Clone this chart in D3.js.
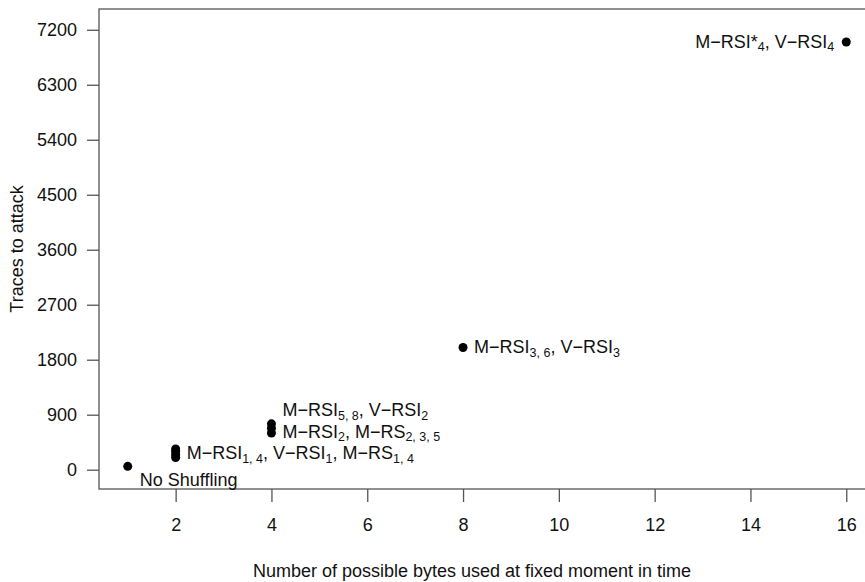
<!DOCTYPE html>
<html>
<head>
<meta charset="utf-8">
<script src="https://cdn.jsdelivr.net/npm/d3@7/dist/d3.min.js"></script>
<style>
  body { margin: 0; background: #fff; }
  svg text { font-family: "Liberation Sans", Arial, Helvetica, sans-serif; }
</style>
</head>
<body>
<svg id="chart" width="865" height="582"></svg>
<script>
// Shuffling variants: number of candidate bytes vs. traces needed for the attack
const possibleBytes   = [1, 2, 2, 2, 2, 4, 4, 4, 8, 16];
const tracesToAttack  = [55, 200, 250, 300, 340, 600, 680, 750, 2000, 7000];

const xTicks = [2, 4, 6, 8, 10, 12, 14, 16];
const yTicks = [0, 900, 1800, 2700, 3600, 4500, 5400, 6300, 7200];

// Point annotations: anchor (x, traces) and which side of the point the text sits
const labelX    = [1, 2, 4, 4, 8, 16];
const labelY    = [55, 270, 975, 625, 2000, 7000];
const labelSide = ["below", "right", "right", "right", "right", "left"];
const labelText = [
  [["No Shuffling"]],
  [["M\u2212RSI"], ["1, 4", "sub"], [", V\u2212RSI"], ["1", "sub"], [", M\u2212RS"], ["1, 4", "sub"]],
  [["M\u2212RSI"], ["5, 8", "sub"], [", V\u2212RSI"], ["2", "sub"]],
  [["M\u2212RSI"], ["2", "sub"], [", M\u2212RS"], ["2, 3, 5", "sub"]],
  [["M\u2212RSI"], ["3, 6", "sub"], [", V\u2212RSI"], ["3", "sub"]],
  [["M\u2212RSI*"], ["4", "sub"], [", V\u2212RSI"], ["4", "sub"]]
];

const xLabel = "Number of possible bytes used at fixed moment in time";
const yLabel = "Traces to attack";

const svg = d3.select("#chart");
const plot = { left: 99, right: 875, top: 9, bottom: 489 };

const x = d3.scaleLinear().domain([0.4, 16.6]).range([plot.left, plot.right]);
const y = d3.scaleLinear().domain([-316, 7540]).range([plot.bottom, plot.top]);

const axisColor = "#555";
const textColor = "#111";
const fontSize = 18;
const subSize = 12.5;
const subDrop = 3.5;

// Frame around the plotting region
svg.append("rect")
  .attr("x", plot.left).attr("y", plot.top)
  .attr("width", plot.right - plot.left).attr("height", plot.bottom - plot.top)
  .attr("fill", "none").attr("stroke", axisColor).attr("stroke-width", 1.3);

// Y axis
const gy = svg.append("g")
  .attr("transform", `translate(${plot.left},0)`)
  .call(d3.axisLeft(y).tickValues(yTicks).tickSize(12).tickPadding(10).tickFormat(d3.format("d")));
gy.select(".domain").remove();
gy.selectAll(".tick line").attr("stroke", axisColor).attr("stroke-width", 1.3);
gy.selectAll(".tick text").attr("fill", textColor).attr("font-size", fontSize)
  .attr("font-family", "Liberation Sans, Arial, sans-serif");

// X axis
const gx = svg.append("g")
  .attr("transform", `translate(0,${plot.bottom})`)
  .call(d3.axisBottom(x).tickValues(xTicks).tickSize(13).tickPadding(16).tickFormat(d3.format("d")));
gx.select(".domain").remove();
gx.selectAll(".tick line").attr("stroke", axisColor).attr("stroke-width", 1.3);
gx.selectAll(".tick text").attr("fill", textColor).attr("font-size", fontSize)
  .attr("font-family", "Liberation Sans, Arial, sans-serif");

// Axis titles
svg.append("text")
  .attr("x", 472).attr("y", 577)
  .attr("text-anchor", "middle")
  .attr("font-size", fontSize).attr("fill", textColor)
  .text(xLabel);

svg.append("text")
  .attr("transform", `translate(23,249) rotate(-90)`)
  .attr("text-anchor", "middle")
  .attr("font-size", fontSize).attr("fill", textColor)
  .text(yLabel);

// Points
svg.append("g").selectAll("circle")
  .data(possibleBytes.map((b, i) => ({ b, t: tracesToAttack[i] })))
  .join("circle")
  .attr("cx", d => x(d.b))
  .attr("cy", d => y(d.t))
  .attr("r", 4.5)
  .attr("fill", "#000");

// Annotations with subscripted indices
const labels = svg.append("g").attr("font-size", fontSize).attr("fill", textColor);
labelX.forEach((lx, i) => {
  const side = labelSide[i];
  const px = x(lx), py = y(labelY[i]);
  let tx, ty, anchor;
  if (side === "below") { tx = px + 12; ty = py + 20; anchor = "start"; }
  else if (side === "left") { tx = px - 12; ty = py + 6; anchor = "end"; }
  else { tx = px + 11; ty = py + 6; anchor = "start"; }
  const t = labels.append("text").attr("x", tx).attr("y", ty).attr("text-anchor", anchor);
  let shifted = false;
  labelText[i].forEach(([s, kind]) => {
    const span = t.append("tspan").text(s);
    if (kind === "sub") {
      span.attr("font-size", subSize).attr("dy", subDrop);
      shifted = true;
    } else if (shifted) {
      span.attr("dy", -subDrop);
      shifted = false;
    }
  });
});
</script>
</body>
</html>
